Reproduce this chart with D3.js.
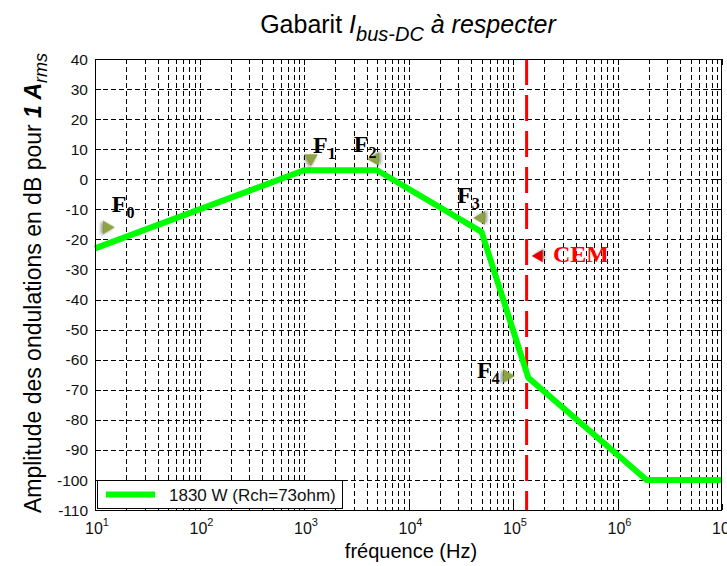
<!DOCTYPE html>
<html><head><meta charset="utf-8">
<script src="https://cdn.jsdelivr.net/npm/d3@7"></script>
<style>body{margin:0;background:#fff}svg{display:block}</style>
</head><body>
<script>
// ---- data ----
const freqs  = [10, 1000, 5000, 50000, 140000, 1900000, 10000000];
const ampDb  = [-23, 3, 3, -17.5, -66, -100, -100];
const seriesName = "1830 W (Rch=73ohm)";
const cemFreq = 135000;
const yTicks = [40,30,20,10,0,-10,-20,-30,-40,-50,-60,-70,-80,-90,-100,-110];
const xExponents = [1,2,3,4,5,6,7];
// annotation labels (data coordinates)
const annLabels = ["F","F","F","F","F"];
const annSubs   = ["0","1","2","3","4"];
const annLabelF = [14.5, 1220, 3000, 29100, 45300];
const annLabelDb= [-11, 8.7, 9.1, -7.9, -66];
const annMarkF  = [13, 1166, 4775, 49400, 87700];
const annMarkDb = [-16, 7, 6.7, -12.9, -65.4];
const annMarkRot= [90, 60, -90, -90, 90];
const cemLabel = "CEM", cemLabelF = 241500, cemLabelDb = -27.5, cemMarkF = 177000, cemMarkDb = -25.5;

const W = 727, H = 566;
const m = {l:95, r:5, t:59, b:56};
const svg = d3.select("body").append("svg").attr("width", W).attr("height", H);
const defs = svg.append("defs");
const f = defs.append("filter").attr("id","sh").attr("x","-50%").attr("y","-50%").attr("width","200%").attr("height","200%");
f.append("feDropShadow").attr("dx",1).attr("dy",2).attr("stdDeviation",1.5).attr("flood-color","#000").attr("flood-opacity",0.45);

const x = d3.scaleLog().domain([10, 1e7]).range([m.l, W - m.r]);
const y = d3.scaleLinear().domain([-110, 40]).range([H - m.b, m.t]);
const x0 = x.range()[0], x1 = x.range()[1], y0 = y.range()[0], y1 = y.range()[1];

// grid
const g = svg.append("g");
const vTicks = [];
for (let n = 1; n <= 6; n++) for (let k = 1; k <= 9; k++) vTicks.push(k * Math.pow(10, n));
vTicks.push(1e7);
const inner = vTicks.filter(v => v > 10 && v < 1e7);
g.selectAll("line.vg").data(inner).join("line")
  .attr("x1", d => Math.round(x(d)) + 0.5).attr("x2", d => Math.round(x(d)) + 0.5)
  .attr("y1", y1).attr("y2", y0)
  .attr("stroke", "#000").attr("stroke-width", 1).attr("stroke-dasharray", "5,3");
g.selectAll("line.hg").data(yTicks.filter(v => v > -110 && v < 40)).join("line")
  .attr("x1", x0).attr("x2", x1)
  .attr("y1", d => Math.round(y(d)) + 0.5).attr("y2", d => Math.round(y(d)) + 0.5)
  .attr("stroke", "#000").attr("stroke-width", 1).attr("stroke-dasharray", "5,3");

// ticks (inward)
const isMajor = v => Math.abs(Math.log10(v) - Math.round(Math.log10(v))) < 1e-9;
const tk = svg.append("g").attr("stroke", "#000").attr("stroke-width", 1);
vTicks.forEach(v => {
  const L = isMajor(v) ? 6 : 3, px = Math.round(x(v)) + 0.5;
  tk.append("line").attr("x1", px).attr("x2", px).attr("y1", y0).attr("y2", y0 - L);
  tk.append("line").attr("x1", px).attr("x2", px).attr("y1", y1).attr("y2", y1 + L);
});
yTicks.forEach(v => {
  const py = Math.round(y(v)) + 0.5;
  tk.append("line").attr("x1", x0).attr("x2", x0 + 6).attr("y1", py).attr("y2", py);
  tk.append("line").attr("x1", x1).attr("x2", x1 - 6).attr("y1", py).attr("y2", py);
});

// CEM red dashed line
svg.append("line").attr("x1", x(cemFreq)).attr("x2", x(cemFreq)).attr("y1", y1).attr("y2", y0)
  .attr("stroke", "#ff0000").attr("stroke-width", 3).attr("stroke-dasharray", "26,10");

// series line
const pts = freqs.map((d, i) => [d, ampDb[i]]);
svg.append("path").datum(pts)
  .attr("d", d3.line().x(d => x(d[0])).y(d => y(d[1])))
  .attr("fill", "none").attr("stroke", "#00ff00").attr("stroke-width", 6).attr("stroke-linejoin", "round");

// axes box
svg.append("rect").attr("x", x0 + 0.5).attr("y", y1 + 0.5).attr("width", x1 - x0 - 1).attr("height", y0 - y1)
  .attr("fill", "none").attr("stroke", "#000").attr("stroke-width", 1);

// y tick labels
svg.append("g").selectAll("text").data(yTicks).join("text")
  .attr("x", x0 - 7).attr("y", d => y(d)).attr("dy", "0.36em")
  .attr("text-anchor", "end").attr("font-family", "Liberation Sans, Arial, sans-serif")
  .attr("font-size", 15.5).attr("fill", "#111").text(d => d);

// x tick labels
const xl = svg.append("g").selectAll("text").data(xExponents).join("text")
  .attr("x", d => x(Math.pow(10, d)) + 2).attr("y", 534)
  .attr("text-anchor", "middle").attr("font-family", "Liberation Sans, Arial, sans-serif")
  .attr("font-size", 16).attr("fill", "#111");
xl.append("tspan").text("10");
xl.append("tspan").attr("dy", -8).attr("font-size", 11).text(d => d);

// legend
const lg = svg.append("g");
lg.append("rect").attr("x", 97.5).attr("y", 480.5).attr("width", 245).attr("height", 28)
  .attr("fill", "#fff").attr("stroke", "#000").attr("stroke-width", 1);
lg.append("line").attr("x1", 106).attr("x2", 155).attr("y1", 494.5).attr("y2", 494.5)
  .attr("stroke", "#00ff00").attr("stroke-width", 6);
lg.append("text").attr("x", 169).attr("y", 500.5).attr("font-family", "Liberation Sans, Arial, sans-serif")
  .attr("font-size", 17).attr("fill", "#111").text(seriesName);

// annotations
const tri = d3.symbol().type(d3.symbolTriangle).size(70);
annLabels.forEach((lab, i) => {
  svg.append("path").attr("d", tri())
    .attr("transform", `translate(${x(annMarkF[i])},${y(annMarkDb[i])}) rotate(${annMarkRot[i]})`)
    .attr("fill", "#8ea443").attr("stroke", "#6b7f2a").attr("stroke-width", 0.5).attr("filter", "url(#sh)");
  const t = svg.append("text").attr("x", x(annLabelF[i])).attr("y", y(annLabelDb[i]))
    .attr("font-family", "Liberation Serif, Times New Roman, serif").attr("font-weight", "bold")
    .attr("font-size", 24).attr("fill", "#000");
  t.append("tspan").text(lab);
  t.append("tspan").attr("dy", 6).attr("font-size", 16).text(annSubs[i]);
});
svg.append("path").attr("d", tri())
  .attr("transform", `translate(${x(cemMarkF)},${y(cemMarkDb)}) rotate(-90)`)
  .attr("fill", "#e00000").attr("filter", "url(#sh)");
svg.append("text").attr("x", x(cemLabelF)).attr("y", y(cemLabelDb))
  .attr("font-family", "Liberation Serif, Times New Roman, serif").attr("font-weight", "bold")
  .attr("font-size", 24).attr("fill", "#ff0000").text(cemLabel);

// title
const tt = svg.append("text").attr("x", 408).attr("y", 33).attr("text-anchor", "middle")
  .attr("font-family", "Liberation Sans, Arial, sans-serif").attr("font-size", 25).attr("fill", "#000");
tt.append("tspan").text("Gabarit ");
tt.append("tspan").attr("font-style", "italic").text("I");
tt.append("tspan").attr("font-style", "italic").attr("font-size", 20).attr("dy", 8).text("bus-DC");
tt.append("tspan").attr("font-style", "italic").attr("dy", -8).text(" à respecter");

// x label
svg.append("text").attr("x", 411).attr("y", 558).attr("text-anchor", "middle")
  .attr("font-family", "Liberation Sans, Arial, sans-serif").attr("font-size", 20).attr("fill", "#000")
  .text("fréquence (Hz)");

// y label
const yl = svg.append("text").attr("transform", "translate(41,283) rotate(-90)").attr("text-anchor", "middle")
  .attr("font-family", "Liberation Sans, Arial, sans-serif").attr("font-size", 23).attr("fill", "#000");
yl.append("tspan").text("Amplitude des ondulations en dB pour ");
yl.append("tspan").attr("font-weight", "bold").attr("font-style", "italic").text("1 A");
yl.append("tspan").attr("font-style", "italic").attr("font-size", 18).attr("dy", 6).text("rms");
</script>
</body></html>
